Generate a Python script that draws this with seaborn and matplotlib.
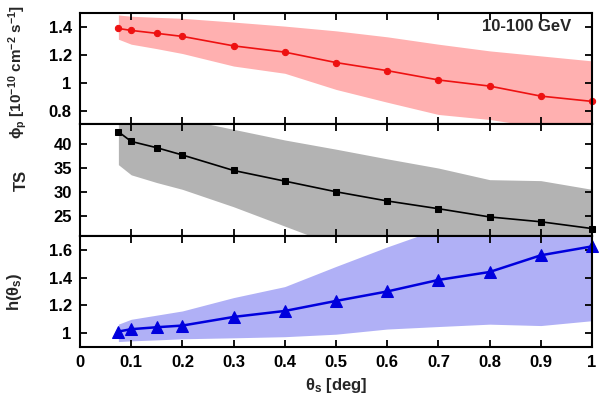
import numpy as np
import pandas as pd
import matplotlib
matplotlib.use("Agg")
import matplotlib.pyplot as plt
import seaborn as sns
from matplotlib.ticker import FuncFormatter

sns.set_style("ticks")
plt.rcParams["font.family"] = ["Liberation Sans", "DejaVu Sans"]
plt.rcParams["font.weight"] = "bold"
plt.rcParams["mathtext.fontset"] = "custom"
plt.rcParams["mathtext.rm"] = "Liberation Sans:bold"
plt.rcParams["mathtext.bf"] = "Liberation Sans:bold"
plt.rcParams["mathtext.default"] = "bf"
plt.rcParams["axes.axisbelow"] = False

# datos
theta = [0.075, 0.1, 0.15, 0.2, 0.3, 0.4, 0.5, 0.6, 0.7, 0.8, 0.9, 1.0]

flujo = [1.39, 1.376, 1.355, 1.333, 1.265, 1.22, 1.145, 1.087, 1.02, 0.976, 0.904, 0.866]
flujo_alto = [1.487, 1.478, 1.47, 1.463, 1.436, 1.407, 1.373, 1.33, 1.277, 1.229, 1.193, 1.157]
flujo_bajo = [1.313, 1.277, 1.245, 1.21, 1.12, 1.068, 0.952, 0.86, 0.772, 0.736, 0.68, 0.65]

ts = [42.5, 40.5, 39.2, 37.7, 34.5, 32.3, 30.1, 28.2, 26.6, 24.9, 23.9, 22.5]
ts_alto = [48.0, 47.5, 46.5, 45.2, 43.0, 40.8, 38.9, 36.9, 35.0, 32.6, 32.4, 30.6]
ts_bajo = [35.7, 33.6, 32.0, 30.6, 27.0, 23.0, 19.0, 18.0, 17.5, 17.0, 16.5, 16.0]

h = [1.012, 1.029, 1.043, 1.055, 1.117, 1.16, 1.232, 1.30, 1.383, 1.44, 1.56, 1.624]
h_alto = [1.065, 1.10, 1.13, 1.16, 1.256, 1.335, 1.48, 1.62, 1.75, 1.85, 1.95, 2.0]
h_bajo = [0.94, 0.945, 0.952, 0.96, 0.967, 0.975, 0.993, 1.03, 1.048, 1.065, 1.055, 1.09]

df = pd.DataFrame({"theta": theta, "flujo": flujo, "ts": ts, "h": h})

fig, axes = plt.subplots(3, 1, figsize=(6, 3.99), dpi=100, sharex=True)
fig.subplots_adjust(left=0.1333, right=0.9867, top=0.967, bottom=0.130, hspace=0)

paneles = [
    ("flujo", flujo_bajo, flujo_alto, "#ee1111", "#ffb0b0", "o", 4.5, 1.2, (0.7, 1.5), [0.8, 1.0, 1.2, 1.4]),
    ("ts", ts_bajo, ts_alto, "black", "#b3b3b3", "s", 4.5, 1.2, (21, 44), [25, 30, 35, 40]),
    ("h", h_bajo, h_alto, "#0000dd", "#b0b0f6", "^", 8, 1.8, (0.9, 1.7), [1.0, 1.2, 1.4, 1.6]),
]

fmt = FuncFormatter(lambda v, p: f"{v:g}")

for ax, (col, bajo, alto, c, cb, m, ms, lw, ylim, yt) in zip(axes, paneles):
    ax.fill_between(theta, bajo, alto, color=cb, lw=0, zorder=0.1)
    sns.lineplot(data=df, x="theta", y=col, ax=ax, color=c, marker=m,
                 markersize=ms, markeredgecolor=c, lw=lw, zorder=3, clip_on=False)
    ax.set_ylim(*ylim)
    ax.set_yticks(yt)
    ax.yaxis.set_major_formatter(fmt)
    ax.set_xlim(0, 1)
    ax.set_xticks(np.arange(0, 1.01, 0.1))
    ax.xaxis.set_major_formatter(fmt)
    ax.tick_params(direction="in", top=True, right=True, length=5, width=1.3,
                   color="black", labelcolor="black", labelsize=12, pad=6)
    for s in ax.spines.values():
        s.set_linewidth(1.5)
        s.set_color("black")
        s.set_zorder(5)
    ax.set_xlabel("")

axes[0].set_ylabel(r"$\phi_p$ [10$^{-10}$ cm$^{-2}$ s$^{-1}$]", fontsize=11, fontweight="bold")
axes[1].set_ylabel("TS", fontsize=12, fontweight="bold")
axes[2].set_ylabel(r"h($\theta_s$)", fontsize=12, fontweight="bold")
axes[0].yaxis.set_label_coords(-0.1, 0.47)
axes[1].yaxis.set_label_coords(-0.1, 0.5)
axes[2].yaxis.set_label_coords(-0.11, 0.5)

axes[2].set_xlabel(r"$\theta_s$ [deg]", fontsize=12, fontweight="bold")

axes[0].text(0.96, 0.88, "10-100 GeV", transform=axes[0].transAxes,
             ha="right", va="center", fontsize=12, fontweight="bold")

fig.savefig("out.png", dpi=100)
